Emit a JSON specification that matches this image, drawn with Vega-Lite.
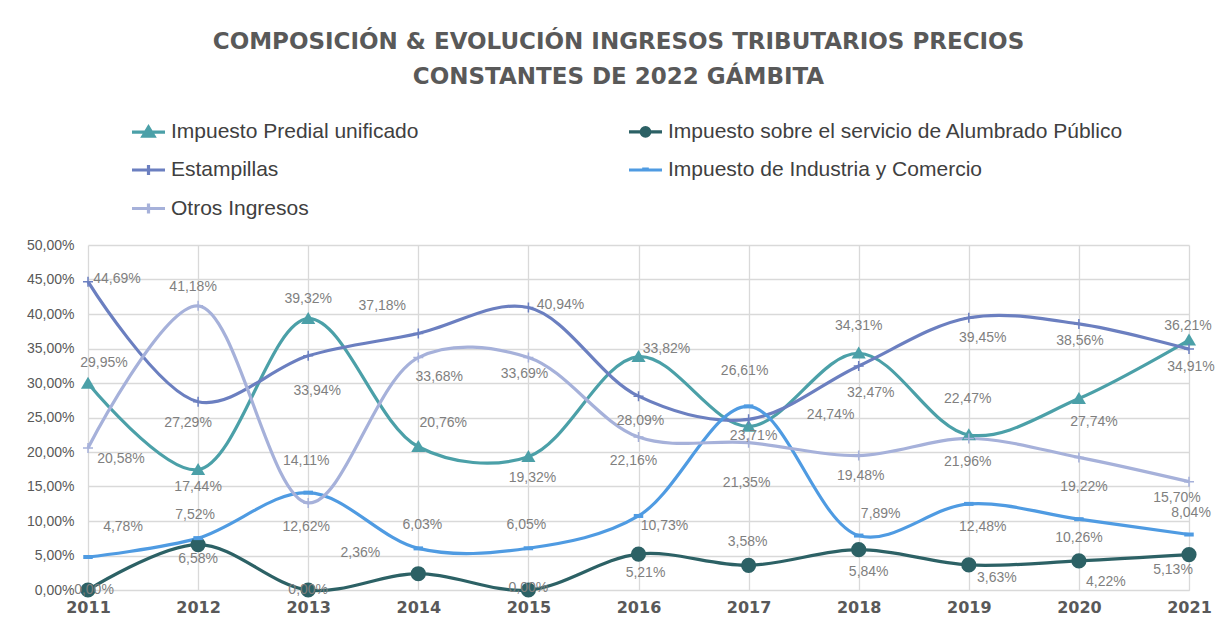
{
  "$schema": "https://vega.github.io/schema/vega-lite/v6.json",
  "autosize": {"type": "none"},
  "width": 1101,
  "height": 345,
  "padding": {"left": 88, "top": 245, "right": 29, "bottom": 38},
  "background": "white",
  "config": {
    "locale": {"number": {"decimal": ",", "thousands": ".", "grouping": [3], "currency": ["", "$"]}},
    "view": {"stroke": null},
    "font": "Liberation Sans"
  },
  "title": {
    "text": ["COMPOSICIÓN  & EVOLUCIÓN INGRESOS TRIBUTARIOS PRECIOS", "CONSTANTES DE 2022 GÁMBITA"],
    "font": "DejaVu Sans",
    "fontSize": 23,
    "fontWeight": "bold",
    "color": "#595959",
    "anchor": "middle",
    "frame": "group",
    "lineHeight": 35,
    "dx": -20,
    "offset": 24
  },
  "params": [
    {"name": "off", "value": {
      "Impuesto Predial unificado|2011": [16, -20],
      "Impuesto Predial unificado|2012": [0, 17],
      "Impuesto Predial unificado|2013": [0, -20],
      "Impuesto Predial unificado|2014": [25, -24],
      "Impuesto Predial unificado|2015": [4, 21],
      "Impuesto Predial unificado|2016": [28, -8],
      "Impuesto Predial unificado|2017": [5, 10],
      "Impuesto Predial unificado|2018": [0, -27],
      "Impuesto Predial unificado|2019": [-1, -36],
      "Impuesto Predial unificado|2020": [15, 23],
      "Impuesto Predial unificado|2021": [-1, -14],
      "Impuesto sobre el servicio de Alumbrado Público|2011": [6, 0],
      "Impuesto sobre el servicio de Alumbrado Público|2012": [0, 14],
      "Impuesto sobre el servicio de Alumbrado Público|2013": [0, 0],
      "Impuesto sobre el servicio de Alumbrado Público|2014": [-58, -21],
      "Impuesto sobre el servicio de Alumbrado Público|2015": [0, -2],
      "Impuesto sobre el servicio de Alumbrado Público|2016": [7, 19],
      "Impuesto sobre el servicio de Alumbrado Público|2017": [-1, -23],
      "Impuesto sobre el servicio de Alumbrado Público|2018": [10, 22],
      "Impuesto sobre el servicio de Alumbrado Público|2019": [28, 13],
      "Impuesto sobre el servicio de Alumbrado Público|2020": [27, 21],
      "Impuesto sobre el servicio de Alumbrado Público|2021": [-16, 15],
      "Estampillas|2011": [29, -3],
      "Estampillas|2012": [-10, 21],
      "Estampillas|2013": [9, 35],
      "Estampillas|2014": [-36, -27],
      "Estampillas|2015": [32, -3],
      "Estampillas|2016": [2, 25],
      "Estampillas|2017": [82, -4],
      "Estampillas|2018": [12, 27],
      "Estampillas|2019": [14, 20],
      "Estampillas|2020": [1, 17],
      "Estampillas|2021": [2, 18],
      "Impuesto de Industria y Comercio|2011": [35, -30],
      "Impuesto de Industria y Comercio|2012": [-3, -23],
      "Impuesto de Industria y Comercio|2013": [-2, -32],
      "Impuesto de Industria y Comercio|2014": [4, -23],
      "Impuesto de Industria y Comercio|2015": [-2, -23],
      "Impuesto de Industria y Comercio|2016": [26, 10],
      "Impuesto de Industria y Comercio|2017": [-4, -35],
      "Impuesto de Industria y Comercio|2018": [22, -22],
      "Impuesto de Industria y Comercio|2019": [14, 23],
      "Impuesto de Industria y Comercio|2020": [0, 19],
      "Impuesto de Industria y Comercio|2021": [2, -22],
      "Otros Ingresos|2011": [33, 11],
      "Otros Ingresos|2012": [-5, -19],
      "Otros Ingresos|2013": [-2, 24],
      "Otros Ingresos|2014": [21, 19],
      "Otros Ingresos|2015": [-4, 16],
      "Otros Ingresos|2016": [-5, 24],
      "Otros Ingresos|2017": [-2, 40],
      "Otros Ingresos|2018": [2, 20],
      "Otros Ingresos|2019": [-1, 24],
      "Otros Ingresos|2020": [5, 30],
      "Otros Ingresos|2021": [-12, 16]
    }}
  ],
  "data": {"values": [
    {"series": "Impuesto Predial unificado", "year": "2011", "value": 0.2995},
    {"series": "Impuesto Predial unificado", "year": "2012", "value": 0.1744},
    {"series": "Impuesto Predial unificado", "year": "2013", "value": 0.3932},
    {"series": "Impuesto Predial unificado", "year": "2014", "value": 0.2076},
    {"series": "Impuesto Predial unificado", "year": "2015", "value": 0.1932},
    {"series": "Impuesto Predial unificado", "year": "2016", "value": 0.3382},
    {"series": "Impuesto Predial unificado", "year": "2017", "value": 0.2371},
    {"series": "Impuesto Predial unificado", "year": "2018", "value": 0.3431},
    {"series": "Impuesto Predial unificado", "year": "2019", "value": 0.2247},
    {"series": "Impuesto Predial unificado", "year": "2020", "value": 0.2774},
    {"series": "Impuesto Predial unificado", "year": "2021", "value": 0.3621},
    {"series": "Impuesto sobre el servicio de Alumbrado Público", "year": "2011", "value": 0.0},
    {"series": "Impuesto sobre el servicio de Alumbrado Público", "year": "2012", "value": 0.0658},
    {"series": "Impuesto sobre el servicio de Alumbrado Público", "year": "2013", "value": 0.0},
    {"series": "Impuesto sobre el servicio de Alumbrado Público", "year": "2014", "value": 0.0236},
    {"series": "Impuesto sobre el servicio de Alumbrado Público", "year": "2015", "value": 0.0},
    {"series": "Impuesto sobre el servicio de Alumbrado Público", "year": "2016", "value": 0.0521},
    {"series": "Impuesto sobre el servicio de Alumbrado Público", "year": "2017", "value": 0.0358},
    {"series": "Impuesto sobre el servicio de Alumbrado Público", "year": "2018", "value": 0.0584},
    {"series": "Impuesto sobre el servicio de Alumbrado Público", "year": "2019", "value": 0.0363},
    {"series": "Impuesto sobre el servicio de Alumbrado Público", "year": "2020", "value": 0.0422},
    {"series": "Impuesto sobre el servicio de Alumbrado Público", "year": "2021", "value": 0.0513},
    {"series": "Estampillas", "year": "2011", "value": 0.4469},
    {"series": "Estampillas", "year": "2012", "value": 0.2729},
    {"series": "Estampillas", "year": "2013", "value": 0.3394},
    {"series": "Estampillas", "year": "2014", "value": 0.3718},
    {"series": "Estampillas", "year": "2015", "value": 0.4094},
    {"series": "Estampillas", "year": "2016", "value": 0.2809},
    {"series": "Estampillas", "year": "2017", "value": 0.2474},
    {"series": "Estampillas", "year": "2018", "value": 0.3247},
    {"series": "Estampillas", "year": "2019", "value": 0.3945},
    {"series": "Estampillas", "year": "2020", "value": 0.3856},
    {"series": "Estampillas", "year": "2021", "value": 0.3491},
    {"series": "Impuesto de Industria y Comercio", "year": "2011", "value": 0.0478},
    {"series": "Impuesto de Industria y Comercio", "year": "2012", "value": 0.0752},
    {"series": "Impuesto de Industria y Comercio", "year": "2013", "value": 0.1411},
    {"series": "Impuesto de Industria y Comercio", "year": "2014", "value": 0.0603},
    {"series": "Impuesto de Industria y Comercio", "year": "2015", "value": 0.0605},
    {"series": "Impuesto de Industria y Comercio", "year": "2016", "value": 0.1073},
    {"series": "Impuesto de Industria y Comercio", "year": "2017", "value": 0.2661},
    {"series": "Impuesto de Industria y Comercio", "year": "2018", "value": 0.0789},
    {"series": "Impuesto de Industria y Comercio", "year": "2019", "value": 0.1248},
    {"series": "Impuesto de Industria y Comercio", "year": "2020", "value": 0.1026},
    {"series": "Impuesto de Industria y Comercio", "year": "2021", "value": 0.0804},
    {"series": "Otros Ingresos", "year": "2011", "value": 0.2058},
    {"series": "Otros Ingresos", "year": "2012", "value": 0.4118},
    {"series": "Otros Ingresos", "year": "2013", "value": 0.1262},
    {"series": "Otros Ingresos", "year": "2014", "value": 0.3368},
    {"series": "Otros Ingresos", "year": "2015", "value": 0.3369},
    {"series": "Otros Ingresos", "year": "2016", "value": 0.2216},
    {"series": "Otros Ingresos", "year": "2017", "value": 0.2135},
    {"series": "Otros Ingresos", "year": "2018", "value": 0.1948},
    {"series": "Otros Ingresos", "year": "2019", "value": 0.2196},
    {"series": "Otros Ingresos", "year": "2020", "value": 0.1922},
    {"series": "Otros Ingresos", "year": "2021", "value": 0.1570}
  ]},
  "encoding": {
    "x": {
      "field": "year", "type": "ordinal",
      "scale": {"type": "point", "padding": 0},
      "axis": {
        "title": null, "labelAngle": 0, "labelFont": "DejaVu Sans", "labelFontSize": 16,
        "labelFontWeight": "bold", "labelColor": "#595959", "labelPadding": 9,
        "ticks": false, "domainColor": "#d9d9d9", "grid": true, "gridColor": "#d9d9d9", "gridWidth": 1.3
      }
    },
    "y": {
      "field": "value", "type": "quantitative",
      "scale": {"domain": [0, 0.5], "nice": false},
      "axis": {
        "title": null, "values": [0, 0.05, 0.1, 0.15, 0.2, 0.25, 0.3, 0.35, 0.4, 0.45, 0.5],
        "format": ".2%", "labelFont": "Liberation Sans", "labelFontSize": 14,
        "labelColor": "#595959", "labelPadding": 14, "ticks": false, "domain": false,
        "grid": true, "gridColor": "#d9d9d9", "gridWidth": 1.3
      }
    }
  },
  "layer": [
    {
      "mark": {"type": "line", "interpolate": "catmull-rom", "strokeWidth": 3.2},
      "encoding": {
        "color": {
          "field": "series", "type": "nominal",
          "scale": {
            "domain": ["Impuesto Predial unificado", "Impuesto sobre el servicio de Alumbrado Público", "Estampillas", "Impuesto de Industria y Comercio", "Otros Ingresos"],
            "range": ["#4ba0a8", "#2c6165", "#6b7fc0", "#4f9be2", "#a6b1da"]
          },
          "sort": null,
          "legend": {
            "title": null, "orient": "none", "legendX": 42, "legendY": -132,
            "direction": "horizontal", "columns": 2, "columnPadding": 203, "rowPadding": 8.5,
            "symbolSize": 1089, "symbolStrokeWidth": 3.2, "labelOffset": 4,
            "labelFont": "Liberation Sans", "labelFontSize": 21, "labelColor": "#404040",
            "labelLimit": 600,
            "encode": {
              "symbols": {
                "update": {
                  "shape": {"signal": "datum.value == 'Impuesto Predial unificado' ? 'M-1,0H1M-0.33,0.24L0,-0.3L0.33,0.24Z' : datum.value == 'Impuesto sobre el servicio de Alumbrado Público' ? 'M-1,0H1M-0.26,0A0.26,0.26 0 1,0 0.26,0A0.26,0.26 0 1,0 -0.26,0Z' : datum.value == 'Impuesto de Industria y Comercio' ? 'M-1,0H1M-0.2,-0.05H0.2' : 'M-1,0H1M0,-0.3V0.3'"},
                  "fill": {"signal": "scale('color', datum.value)"},
                  "stroke": {"signal": "scale('color', datum.value)"},
                  "strokeWidth": {"value": 3.2},
                  "opacity": {"value": 1}
                }
              }
            }
          }
        }
      }
    },
    {
      "transform": [{"filter": "datum.series == 'Impuesto Predial unificado'"}],
      "mark": {"type": "point", "filled": true, "opacity": 1, "shape": "M-1,0.75L0,-0.95L1,0.75Z", "size": 200, "color": "#4ba0a8"}
    },
    {
      "transform": [{"filter": "datum.series == 'Impuesto sobre el servicio de Alumbrado Público'"}],
      "mark": {"type": "point", "filled": true, "opacity": 1, "shape": "circle", "size": 230, "color": "#2c6165"}
    },
    {
      "transform": [{"filter": "datum.series == 'Estampillas'"}],
      "mark": {"type": "point", "filled": false, "opacity": 1, "shape": "M-1,0H1M0,-1V1", "size": 100, "strokeWidth": 1.5, "color": "#6b7fc0"}
    },
    {
      "transform": [{"filter": "datum.series == 'Impuesto de Industria y Comercio'"}],
      "mark": {"type": "point", "filled": false, "opacity": 1, "shape": "M-1,0H1", "size": 90, "strokeWidth": 4, "color": "#4f9be2"}
    },
    {
      "transform": [{"filter": "datum.series == 'Otros Ingresos'"}],
      "mark": {"type": "point", "filled": false, "opacity": 1, "shape": "M-1,0H1M0,-1V1", "size": 100, "strokeWidth": 1.5, "color": "#a6b1da"}
    },
    {
      "mark": {
        "type": "text", "font": "Liberation Sans", "fontSize": 14, "color": "#7f7f7f",
        "dx": {"expr": "off[datum.series + '|' + datum.year][0]"},
        "dy": {"expr": "off[datum.series + '|' + datum.year][1]"}
      },
      "encoding": {
        "text": {"field": "value", "type": "quantitative", "format": ".2%"}
      }
    }
  ]
}
